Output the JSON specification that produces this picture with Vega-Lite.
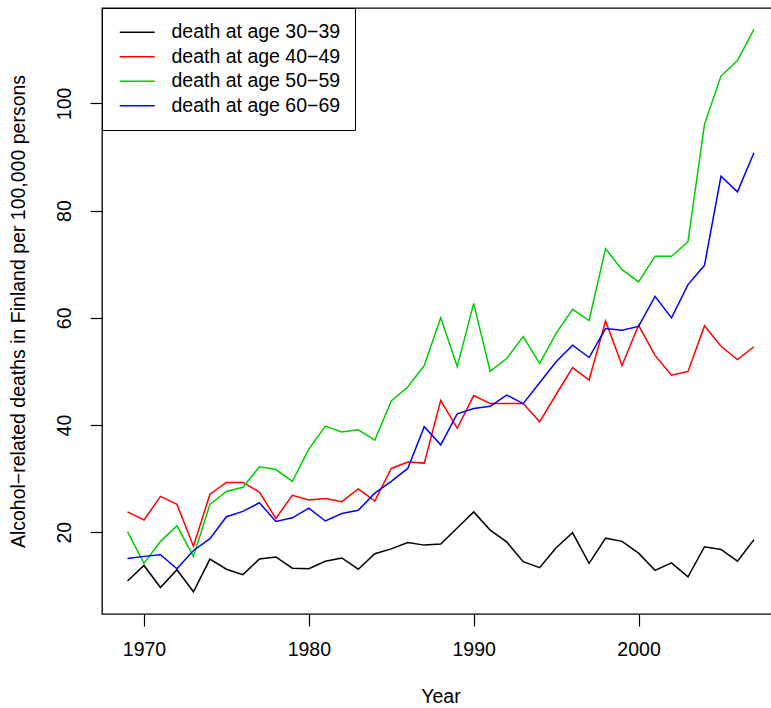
{
  "$schema": "https://vega.github.io/schema/vega-lite/v6.json",
  "width": 677,
  "height": 606,
  "autosize": {"type": "none"},
  "padding": {"left": 102, "top": 8, "right": -8, "bottom": 94},
  "background": "#ffffff",
  "config": {
    "font": "Liberation Sans",
    "view": {"stroke": "#000000", "strokeWidth": 1.3},
    "axis": {
      "grid": false,
      "domain": false,
      "tickColor": "#000000",
      "tickSize": 12,
      "tickWidth": 1.2,
      "labelFont": "Liberation Sans",
      "labelFontSize": 19.5,
      "labelColor": "#000000",
      "titleFont": "Liberation Sans",
      "titleFontSize": 19.5,
      "titleFontWeight": "normal",
      "titleColor": "#000000"
    }
  },
  "datasets": {
    "deaths": [
      {"year": 1969, "group": "death at age 30−39", "value": 10.9},
      {"year": 1970, "group": "death at age 30−39", "value": 13.8},
      {"year": 1971, "group": "death at age 30−39", "value": 9.7},
      {"year": 1972, "group": "death at age 30−39", "value": 13.0},
      {"year": 1973, "group": "death at age 30−39", "value": 8.9},
      {"year": 1974, "group": "death at age 30−39", "value": 15.0},
      {"year": 1975, "group": "death at age 30−39", "value": 13.1},
      {"year": 1976, "group": "death at age 30−39", "value": 12.1},
      {"year": 1977, "group": "death at age 30−39", "value": 15.0},
      {"year": 1978, "group": "death at age 30−39", "value": 15.4},
      {"year": 1979, "group": "death at age 30−39", "value": 13.3},
      {"year": 1980, "group": "death at age 30−39", "value": 13.2},
      {"year": 1981, "group": "death at age 30−39", "value": 14.6},
      {"year": 1982, "group": "death at age 30−39", "value": 15.2},
      {"year": 1983, "group": "death at age 30−39", "value": 13.1},
      {"year": 1984, "group": "death at age 30−39", "value": 16.0},
      {"year": 1985, "group": "death at age 30−39", "value": 16.9},
      {"year": 1986, "group": "death at age 30−39", "value": 18.1},
      {"year": 1987, "group": "death at age 30−39", "value": 17.6},
      {"year": 1988, "group": "death at age 30−39", "value": 17.8},
      {"year": 1989, "group": "death at age 30−39", "value": 20.8},
      {"year": 1990, "group": "death at age 30−39", "value": 23.8},
      {"year": 1991, "group": "death at age 30−39", "value": 20.4},
      {"year": 1992, "group": "death at age 30−39", "value": 18.2},
      {"year": 1993, "group": "death at age 30−39", "value": 14.5},
      {"year": 1994, "group": "death at age 30−39", "value": 13.4},
      {"year": 1995, "group": "death at age 30−39", "value": 17.1},
      {"year": 1996, "group": "death at age 30−39", "value": 19.9},
      {"year": 1997, "group": "death at age 30−39", "value": 14.2},
      {"year": 1998, "group": "death at age 30−39", "value": 18.9},
      {"year": 1999, "group": "death at age 30−39", "value": 18.3},
      {"year": 2000, "group": "death at age 30−39", "value": 16.1},
      {"year": 2001, "group": "death at age 30−39", "value": 12.9},
      {"year": 2002, "group": "death at age 30−39", "value": 14.3},
      {"year": 2003, "group": "death at age 30−39", "value": 11.7},
      {"year": 2004, "group": "death at age 30−39", "value": 17.3},
      {"year": 2005, "group": "death at age 30−39", "value": 16.8},
      {"year": 2006, "group": "death at age 30−39", "value": 14.6},
      {"year": 2007, "group": "death at age 30−39", "value": 18.6},
      {"year": 1969, "group": "death at age 40−49", "value": 23.8},
      {"year": 1970, "group": "death at age 40−49", "value": 22.3},
      {"year": 1971, "group": "death at age 40−49", "value": 26.7},
      {"year": 1972, "group": "death at age 40−49", "value": 25.2},
      {"year": 1973, "group": "death at age 40−49", "value": 17.4},
      {"year": 1974, "group": "death at age 40−49", "value": 27.1},
      {"year": 1975, "group": "death at age 40−49", "value": 29.3},
      {"year": 1976, "group": "death at age 40−49", "value": 29.3},
      {"year": 1977, "group": "death at age 40−49", "value": 27.5},
      {"year": 1978, "group": "death at age 40−49", "value": 22.6},
      {"year": 1979, "group": "death at age 40−49", "value": 26.9},
      {"year": 1980, "group": "death at age 40−49", "value": 26.0},
      {"year": 1981, "group": "death at age 40−49", "value": 26.3},
      {"year": 1982, "group": "death at age 40−49", "value": 25.7},
      {"year": 1983, "group": "death at age 40−49", "value": 28.1},
      {"year": 1984, "group": "death at age 40−49", "value": 25.8},
      {"year": 1985, "group": "death at age 40−49", "value": 31.9},
      {"year": 1986, "group": "death at age 40−49", "value": 33.1},
      {"year": 1987, "group": "death at age 40−49", "value": 32.9},
      {"year": 1988, "group": "death at age 40−49", "value": 44.6},
      {"year": 1989, "group": "death at age 40−49", "value": 39.4},
      {"year": 1990, "group": "death at age 40−49", "value": 45.5},
      {"year": 1991, "group": "death at age 40−49", "value": 44.0},
      {"year": 1992, "group": "death at age 40−49", "value": 44.0},
      {"year": 1993, "group": "death at age 40−49", "value": 44.0},
      {"year": 1994, "group": "death at age 40−49", "value": 40.6},
      {"year": 1995, "group": "death at age 40−49", "value": 45.7},
      {"year": 1996, "group": "death at age 40−49", "value": 50.7},
      {"year": 1997, "group": "death at age 40−49", "value": 48.4},
      {"year": 1998, "group": "death at age 40−49", "value": 59.4},
      {"year": 1999, "group": "death at age 40−49", "value": 51.1},
      {"year": 2000, "group": "death at age 40−49", "value": 58.6},
      {"year": 2001, "group": "death at age 40−49", "value": 53.0},
      {"year": 2002, "group": "death at age 40−49", "value": 49.3},
      {"year": 2003, "group": "death at age 40−49", "value": 50.0},
      {"year": 2004, "group": "death at age 40−49", "value": 58.5},
      {"year": 2005, "group": "death at age 40−49", "value": 54.7},
      {"year": 2006, "group": "death at age 40−49", "value": 52.2},
      {"year": 2007, "group": "death at age 40−49", "value": 54.6},
      {"year": 1969, "group": "death at age 50−59", "value": 20.1},
      {"year": 1970, "group": "death at age 50−59", "value": 14.2},
      {"year": 1971, "group": "death at age 50−59", "value": 18.3},
      {"year": 1972, "group": "death at age 50−59", "value": 21.2},
      {"year": 1973, "group": "death at age 50−59", "value": 15.5},
      {"year": 1974, "group": "death at age 50−59", "value": 25.2},
      {"year": 1975, "group": "death at age 50−59", "value": 27.6},
      {"year": 1976, "group": "death at age 50−59", "value": 28.4},
      {"year": 1977, "group": "death at age 50−59", "value": 32.2},
      {"year": 1978, "group": "death at age 50−59", "value": 31.7},
      {"year": 1979, "group": "death at age 50−59", "value": 29.5},
      {"year": 1980, "group": "death at age 50−59", "value": 35.5},
      {"year": 1981, "group": "death at age 50−59", "value": 39.8},
      {"year": 1982, "group": "death at age 50−59", "value": 38.7},
      {"year": 1983, "group": "death at age 50−59", "value": 39.1},
      {"year": 1984, "group": "death at age 50−59", "value": 37.2},
      {"year": 1985, "group": "death at age 50−59", "value": 44.5},
      {"year": 1986, "group": "death at age 50−59", "value": 47.1},
      {"year": 1987, "group": "death at age 50−59", "value": 51.1},
      {"year": 1988, "group": "death at age 50−59", "value": 60.0},
      {"year": 1989, "group": "death at age 50−59", "value": 50.9},
      {"year": 1990, "group": "death at age 50−59", "value": 62.7},
      {"year": 1991, "group": "death at age 50−59", "value": 50.0},
      {"year": 1992, "group": "death at age 50−59", "value": 52.4},
      {"year": 1993, "group": "death at age 50−59", "value": 56.5},
      {"year": 1994, "group": "death at age 50−59", "value": 51.5},
      {"year": 1995, "group": "death at age 50−59", "value": 57.1},
      {"year": 1996, "group": "death at age 50−59", "value": 61.6},
      {"year": 1997, "group": "death at age 50−59", "value": 59.5},
      {"year": 1998, "group": "death at age 50−59", "value": 72.9},
      {"year": 1999, "group": "death at age 50−59", "value": 69.0},
      {"year": 2000, "group": "death at age 50−59", "value": 66.7},
      {"year": 2001, "group": "death at age 50−59", "value": 71.5},
      {"year": 2002, "group": "death at age 50−59", "value": 71.5},
      {"year": 2003, "group": "death at age 50−59", "value": 74.2},
      {"year": 2004, "group": "death at age 50−59", "value": 96.1},
      {"year": 2005, "group": "death at age 50−59", "value": 105.1},
      {"year": 2006, "group": "death at age 50−59", "value": 108.0},
      {"year": 2007, "group": "death at age 50−59", "value": 113.8},
      {"year": 1969, "group": "death at age 60−69", "value": 15.1},
      {"year": 1970, "group": "death at age 60−69", "value": 15.5},
      {"year": 1971, "group": "death at age 60−69", "value": 15.8},
      {"year": 1972, "group": "death at age 60−69", "value": 13.2},
      {"year": 1973, "group": "death at age 60−69", "value": 16.6},
      {"year": 1974, "group": "death at age 60−69", "value": 18.8},
      {"year": 1975, "group": "death at age 60−69", "value": 22.9},
      {"year": 1976, "group": "death at age 60−69", "value": 23.9},
      {"year": 1977, "group": "death at age 60−69", "value": 25.5},
      {"year": 1978, "group": "death at age 60−69", "value": 22.0},
      {"year": 1979, "group": "death at age 60−69", "value": 22.7},
      {"year": 1980, "group": "death at age 60−69", "value": 24.5},
      {"year": 1981, "group": "death at age 60−69", "value": 22.1},
      {"year": 1982, "group": "death at age 60−69", "value": 23.5},
      {"year": 1983, "group": "death at age 60−69", "value": 24.1},
      {"year": 1984, "group": "death at age 60−69", "value": 27.3},
      {"year": 1985, "group": "death at age 60−69", "value": 29.5},
      {"year": 1986, "group": "death at age 60−69", "value": 31.9},
      {"year": 1987, "group": "death at age 60−69", "value": 39.7},
      {"year": 1988, "group": "death at age 60−69", "value": 36.3},
      {"year": 1989, "group": "death at age 60−69", "value": 42.1},
      {"year": 1990, "group": "death at age 60−69", "value": 43.1},
      {"year": 1991, "group": "death at age 60−69", "value": 43.5},
      {"year": 1992, "group": "death at age 60−69", "value": 45.6},
      {"year": 1993, "group": "death at age 60−69", "value": 44.0},
      {"year": 1994, "group": "death at age 60−69", "value": 47.9},
      {"year": 1995, "group": "death at age 60−69", "value": 51.8},
      {"year": 1996, "group": "death at age 60−69", "value": 54.9},
      {"year": 1997, "group": "death at age 60−69", "value": 52.6},
      {"year": 1998, "group": "death at age 60−69", "value": 58.0},
      {"year": 1999, "group": "death at age 60−69", "value": 57.7},
      {"year": 2000, "group": "death at age 60−69", "value": 58.4},
      {"year": 2001, "group": "death at age 60−69", "value": 64.0},
      {"year": 2002, "group": "death at age 60−69", "value": 60.0},
      {"year": 2003, "group": "death at age 60−69", "value": 66.2},
      {"year": 2004, "group": "death at age 60−69", "value": 69.8},
      {"year": 2005, "group": "death at age 60−69", "value": 86.4},
      {"year": 2006, "group": "death at age 60−69", "value": 83.5},
      {"year": 2007, "group": "death at age 60−69", "value": 90.8}
    ]
  },
  "data": {"name": "deaths"},
  "mark": {"type": "line", "strokeWidth": 1.5, "clip": true},
  "encoding": {
    "x": {
      "field": "year",
      "type": "quantitative",
      "scale": {"domain": [1967.453, 2008.52], "nice": false, "zero": false},
      "axis": {
        "values": [1970, 1980, 1990, 2000],
        "format": "d",
        "labelBaseline": "middle",
        "labelPadding": 23,
        "labelFlush": false,
        "title": "Year",
        "titlePadding": 29
      }
    },
    "y": {
      "field": "value",
      "type": "quantitative",
      "scale": {"domain": [4.75, 117.8], "nice": false, "zero": false},
      "axis": {
        "values": [20, 40, 60, 80, 100],
        "labelAngle": 270,
        "labelAlign": "center",
        "labelBaseline": "middle",
        "labelPadding": 26,
        "title": "Alcohol−related deaths in Finland per 100,000 persons",
        "titlePadding": 26
      }
    },
    "color": {
      "field": "group",
      "type": "nominal",
      "scale": {
        "domain": ["death at age 30−39", "death at age 40−49", "death at age 50−59", "death at age 60−69"],
        "range": ["#000000", "#FF0000", "#00CD00", "#0000FF"]
      },
      "legend": {
        "orient": "none",
        "legendX": 0,
        "legendY": 0,
        "title": null,
        "symbolType": "M-4,0L4,0",
        "symbolSize": 76.5625,
        "symbolStrokeWidth": 1.5,
        "labelFont": "Liberation Sans",
        "labelFontSize": 19.5,
        "labelColor": "#000000",
        "labelLimit": 400,
        "labelOffset": 24.5,
        "symbolOffset": 11,
        "rowPadding": 3.5,
        "padding": 14.5,
        "strokeColor": "#000000",
        "fillColor": "#ffffff"
      }
    }
  }
}
